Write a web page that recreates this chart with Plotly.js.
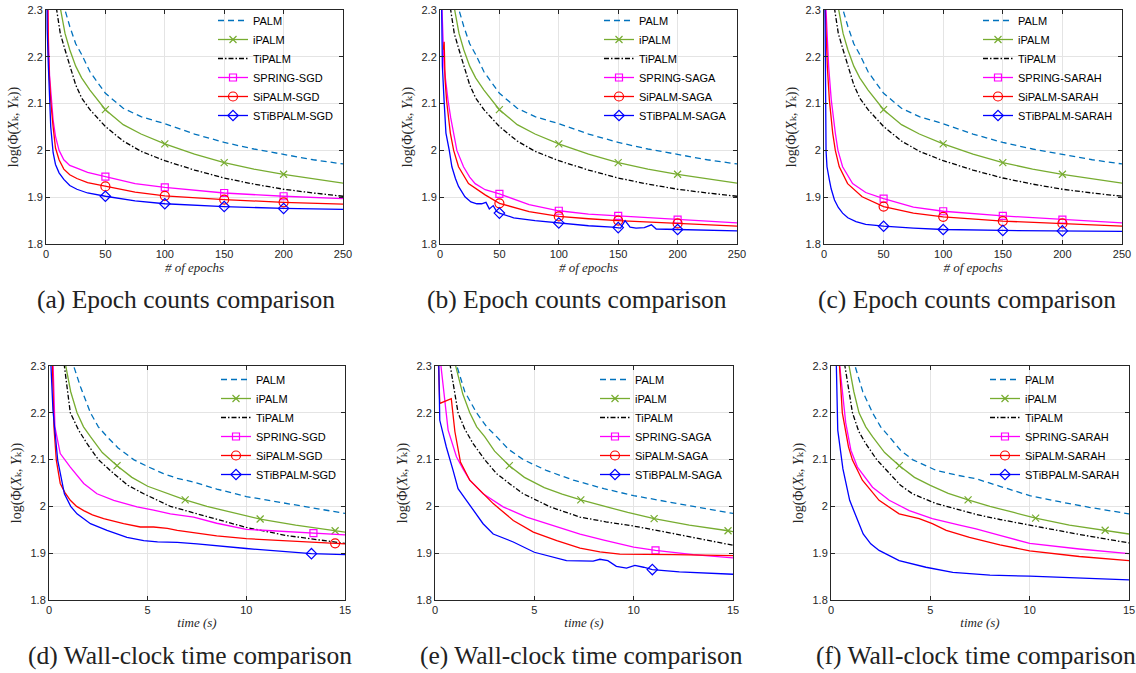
<!DOCTYPE html>
<html><head><meta charset="utf-8">
<script src="https://cdn.plot.ly/plotly-3.0.1.min.js"></script>
<style>html,body{margin:0;padding:0;background:#fff}#chart{width:1136px;height:673px}</style>
</head><body><div id="chart"></div>
<script>
// ---------------- DATA ----------------
const captions = ['(a) Epoch counts comparison','(b) Epoch counts comparison','(c) Epoch counts comparison',
  '(d) Wall-clock time comparison','(e) Wall-clock time comparison','(f) Wall-clock time comparison'];
const suffixes = ['SGD','SAGA','SARAH','SGD','SAGA','SARAH'];
const epochTicks = [0,50,100,150,200,250];
const timeTicks = [0,5,10,15];
const yTicks = [1.8,1.9,2.0,2.1,2.2,2.3];
const epochMarkerX = [50,100,150,200];

// deterministic methods vs epochs (same in a, b, c)
const EP_PALM_x   = [0,5,9,12,16,20,25,30,37,50,65,80,100,125,150,175,200,225,250];
const EP_PALM_y   = [3.0,2.6,2.45,2.37,2.3,2.265,2.228,2.205,2.168,2.122,2.09,2.072,2.057,2.035,2.017,2.003,1.991,1.98,1.971];
const EP_iPALM_x  = [0,5,9,12,16,20,25,30,37,50,65,80,100,125,150,175,200,225,250];
const EP_iPALM_y  = [3.0,2.5,2.37,2.305,2.25,2.215,2.18,2.155,2.129,2.087,2.055,2.035,2.014,1.992,1.974,1.96,1.949,1.939,1.930];
const EP_TiPALM_x = [0,5,9,12,16,20,25,30,37,50,65,80,100,125,150,175,200,225,250];
const EP_TiPALM_y = [3.0,2.45,2.3,2.25,2.215,2.18,2.14,2.112,2.087,2.051,2.02,1.998,1.978,1.958,1.941,1.928,1.917,1.909,1.902];

// (a) SGD vs epochs
const A_SPRING_x   = [0,1,2,3,4,6,8,11,15,20,26,35,50,75,100,150,200,250];
const A_SPRING_y   = [2.6,2.38,2.24,2.16,2.125,2.065,2.03,2.0,1.98,1.968,1.962,1.953,1.944,1.929,1.921,1.909,1.902,1.897];
const A_SiPALM_x   = [0,1,2,3,4,6,8,11,15,20,26,35,50,75,100,150,200,250];
const A_SiPALM_y   = [2.6,2.35,2.21,2.15,2.105,2.05,2.005,1.98,1.96,1.948,1.94,1.931,1.923,1.911,1.903,1.895,1.889,1.885];
const A_STiBPALM_x = [0,1,2,3,4,6,8,11,15,20,26,35,50,75,100,150,200,250];
const A_STiBPALM_y = [2.6,2.26,2.18,2.1,2.05,1.995,1.97,1.952,1.938,1.925,1.917,1.909,1.902,1.892,1.886,1.880,1.876,1.874];

// (b) SAGA vs epochs
const B_SPRING_x   = [0,1,1.7,3.4,5,6.7,9,11.5,14.2,19.8,25,29.6,38,50,75,100,125,150,200,250];
const B_SPRING_y   = [2.6,2.4,2.3,2.179,2.14,2.108,2.07,2.037,2.0,1.965,1.943,1.929,1.916,1.907,1.884,1.871,1.864,1.860,1.852,1.845];
const B_SiPALM_x   = [2.8,3.5,4.3,5.6,8.7,11.5,15.6,24,38,50,75,100,125,150,200,250];
const B_SiPALM_y   = [2.215,2.232,2.15,2.105,2.037,2.0,1.965,1.929,1.905,1.887,1.869,1.859,1.854,1.850,1.844,1.838];
const B_STiBPALM_x = [0,1,2,3.4,5,7.8,10,13,15.6,21,26,31,35,38.7,41.5,44.8,47.6,50,62,80,100,125,145,150,152,155.8,160,165,172,178,182,200,225,250];
const B_STiBPALM_y = [2.6,2.3,2.18,2.108,2.037,2.0,1.965,1.94,1.923,1.901,1.89,1.886,1.886,1.889,1.875,1.882,1.870,1.866,1.856,1.85,1.845,1.839,1.836,1.835,1.834,1.850,1.836,1.834,1.835,1.841,1.832,1.831,1.829,1.828];

// (c) SARAH vs epochs
const C_SPRING_x   = [0,1.7,3.9,6.1,9.5,11.7,15.6,24,35,50,75,100,150,200,250];
const C_SPRING_y   = [2.6,2.3,2.179,2.108,2.037,2.0,1.965,1.929,1.91,1.897,1.879,1.870,1.860,1.852,1.845];
const C_SiPALM_x   = [0,1.1,2.8,4.5,7.3,9.5,12.8,19.8,32,50,75,100,150,200,250];
const C_SiPALM_y   = [2.6,2.3,2.179,2.108,2.037,2.0,1.965,1.929,1.901,1.880,1.866,1.858,1.849,1.844,1.838];
const C_STiBPALM_x = [0,0.5,1.0,1.7,2.5,3.5,4.5,6,8.8,12,15.6,20,26.8,35,50,75,100,150,200,250];
const C_STiBPALM_y = [2.6,2.35,2.15,2.0,1.965,1.948,1.937,1.918,1.894,1.878,1.866,1.856,1.848,1.842,1.838,1.834,1.831,1.829,1.828,1.827];

// (d) SGD vs time (s)
const D_PALM_x     = [0,0.8,1.25,1.6,2.1,2.5,2.94,3.5,4.29,5,5.8,6.5,7.33,8.5,10,11.5,13,15];
const D_PALM_y     = [3.0,2.5,2.3,2.255,2.2,2.17,2.149,2.125,2.1,2.085,2.07,2.06,2.052,2.037,2.021,2.01,2.0,1.985];
const D_iPALM_x    = [0,0.5,0.85,1.1,1.42,1.75,2.1,2.7,3.45,4.2,5,6,6.9,8,9,10.7,12.5,14.5,15];
const D_iPALM_y    = [3.0,2.45,2.3,2.245,2.2,2.17,2.149,2.115,2.087,2.062,2.043,2.027,2.014,2.0,1.99,1.973,1.96,1.948,1.945];
const D_TiPALM_x   = [0,0.5,0.78,1.08,1.5,1.93,2.5,3.28,4,4.8,6.15,7.33,8.5,10,12,14,15];
const D_TiPALM_y   = [3.0,2.42,2.3,2.2,2.163,2.134,2.1,2.07,2.045,2.027,2.0,1.986,1.972,1.955,1.938,1.927,1.921];
const D_SPRING_x   = [0,0.2,0.3,0.57,1.08,1.76,2.43,3.28,4.46,5.3,6.15,7.33,8.5,10,12,13.4,15];
const D_SPRING_y   = [2.6,2.3,2.17,2.113,2.084,2.049,2.027,2.013,1.999,1.992,1.984,1.977,1.964,1.951,1.946,1.943,1.939];
const D_SiPALM_x   = [0,0.17,0.25,0.37,0.57,0.8,1.08,1.4,1.76,2.2,2.77,3.78,4.63,5.3,6.0,6.5,7.33,8.5,10,12,14.5,15];
const D_SiPALM_y   = [2.6,2.3,2.17,2.099,2.049,2.03,2.013,2.0,1.991,1.982,1.974,1.963,1.956,1.956,1.953,1.949,1.944,1.937,1.931,1.926,1.921,1.920];
const D_STiBPALM_x = [0,0.1,0.2,0.44,0.78,1.1,1.42,2.1,2.94,3.95,4.8,5.5,6.5,7.5,10,12,13.3,15];
const D_STiBPALM_y = [2.6,2.3,2.206,2.099,2.027,2.0,1.984,1.963,1.949,1.934,1.927,1.924,1.923,1.920,1.910,1.903,1.899,1.897];

// (e) SAGA vs time (s)
const E_PALM_x     = [0,0.6,1.1,1.5,2.09,2.6,3.1,3.7,4.44,5.6,6.97,8.5,10,11.5,13,15];
const E_PALM_y     = [3.0,2.5,2.3,2.245,2.2,2.17,2.149,2.122,2.1,2.077,2.056,2.038,2.023,2.011,2.0,1.985];
const E_iPALM_x    = [0,0.6,1.04,1.4,1.75,2.1,2.5,3.0,3.74,4.5,5.5,6.4,7.34,8.5,9.7,11.03,12.8,14.75,15];
const E_iPALM_y    = [3.0,2.45,2.3,2.24,2.2,2.17,2.149,2.118,2.087,2.062,2.04,2.026,2.014,2.0,1.987,1.974,1.96,1.948,1.946];
const E_TiPALM_x   = [0,0.5,0.77,1.16,1.5,1.92,2.5,3.1,3.8,4.44,5.8,7.3,8.6,10,11.5,13,15];
const E_TiPALM_y   = [3.0,2.42,2.3,2.2,2.165,2.134,2.1,2.07,2.047,2.027,1.999,1.977,1.967,1.958,1.946,1.933,1.917];
const E_SPRING_x   = [0,0.15,0.3,0.66,1.08,1.41,1.75,2.42,3.43,4.61,6.13,7.3,8.5,10,11.1,13,15];
const E_SPRING_y   = [2.6,2.45,2.3,2.163,2.106,2.08,2.056,2.027,1.999,1.977,1.956,1.941,1.928,1.913,1.906,1.897,1.890];
const E_SiPALM_x   = [0,0.1,0.24,0.82,1.0,1.28,1.75,2.26,2.93,3.94,4.95,6.13,7.3,8.3,9.3,12,15];
const E_SiPALM_y   = [2.6,2.4,2.22,2.23,2.16,2.095,2.056,2.034,2.006,1.97,1.945,1.927,1.911,1.903,1.898,1.897,1.895];
const E_STiBPALM_x = [0,0.15,0.24,0.57,0.91,1.16,1.58,2.0,2.42,2.93,3.94,5.0,6.13,6.62,7.96,8.3,8.7,9.13,9.64,10.06,10.5,10.94,12.3,15];
const E_STiBPALM_y = [2.6,2.4,2.184,2.127,2.077,2.038,2.013,1.988,1.963,1.941,1.924,1.902,1.889,1.884,1.883,1.887,1.884,1.872,1.868,1.874,1.870,1.865,1.860,1.855];

// (f) SARAH vs time (s)
const F_PALM_x     = [0,0.7,1.21,1.6,2.09,2.5,2.93,3.5,4.1,5.29,6.3,7.3,8.5,10,11.5,13,15];
const F_PALM_y     = [3.0,2.45,2.3,2.245,2.2,2.17,2.149,2.12,2.1,2.077,2.067,2.059,2.043,2.023,2.01,1.998,1.984];
const F_iPALM_x    = [0,0.5,0.91,1.15,1.41,1.75,2.09,2.7,3.44,4.2,5,5.9,6.9,8,9.2,10.3,12,13.8,15];
const F_iPALM_y    = [3.0,2.45,2.3,2.245,2.2,2.17,2.149,2.115,2.087,2.062,2.045,2.028,2.014,2.0,1.987,1.975,1.96,1.949,1.941];
const F_TiPALM_x   = [0,0.45,0.7,1.08,1.4,1.75,2.3,2.93,3.5,4.1,5.29,7.3,8.5,10,12.5,15];
const F_TiPALM_y   = [3.0,2.42,2.3,2.2,2.16,2.134,2.1,2.07,2.045,2.027,2.006,1.983,1.972,1.96,1.94,1.922];
const F_SPRING_x   = [0,0.2,0.44,0.74,1.0,1.33,2.09,2.93,3.94,5.1,6.47,7.3,8.5,10,12.5,15];
const F_SPRING_y   = [2.6,2.45,2.3,2.179,2.12,2.084,2.041,2.013,1.991,1.974,1.96,1.952,1.938,1.921,1.909,1.899];
const F_SiPALM_x   = [0,0.2,0.4,0.57,0.88,1.08,1.58,2.42,3.43,4.44,5.1,5.8,6.97,8.5,10,12.5,15];
const F_SiPALM_y   = [2.6,2.45,2.3,2.2,2.127,2.099,2.056,2.013,1.984,1.974,1.963,1.949,1.934,1.918,1.905,1.893,1.884];
const F_STiBPALM_x = [0,0.15,0.27,0.34,0.6,0.94,1.25,1.62,2.0,2.42,3.43,4.78,6.13,7.3,8,10,12.5,15];
const F_STiBPALM_y = [2.6,2.4,2.3,2.163,2.08,2.013,1.98,1.941,1.92,1.906,1.884,1.87,1.859,1.856,1.853,1.851,1.847,1.843];

// marker positions (x values of marked samples)
const D_iPALM_mk = [3.45,6.9,10.7,14.5];
const D_SPRING_mk = [13.4];
const D_SiPALM_mk = [14.5];
const D_STiBPALM_mk = [13.3];
const E_iPALM_mk = [3.74,7.34,11.03,14.75];
const E_SPRING_mk = [11.1];
const E_STiBPALM_mk = [10.94];
const F_iPALM_mk = [3.44,6.9,10.3,13.8];

// ---------------- STYLE / LAYOUT ----------------
const W = 1136, H = 673;
const ORDER = ['PALM','iPALM','TiPALM','SPRING','SiPALM','STiBPALM'];
const STYLE = {
  PALM:    {color:'#0072BD', dash:'6px,4px'},
  iPALM:   {color:'#77AC30', dash:'solid', symbol:'x-thin-open', size:7},
  TiPALM:  {color:'#000000', dash:'5px,2px,1.5px,2px'},
  SPRING:  {color:'#FF00FF', dash:'solid', symbol:'square-open', size:7},
  SiPALM:  {color:'#FF0000', dash:'solid', symbol:'circle-open', size:9},
  STiBPALM:{color:'#0000FF', dash:'solid', symbol:'diamond-open', size:8}
};
const panels = [
  {data:{PALM:[EP_PALM_x,EP_PALM_y],iPALM:[EP_iPALM_x,EP_iPALM_y],TiPALM:[EP_TiPALM_x,EP_TiPALM_y],SPRING:[A_SPRING_x,A_SPRING_y],SiPALM:[A_SiPALM_x,A_SiPALM_y],STiBPALM:[A_STiBPALM_x,A_STiBPALM_y]},
   marks:{iPALM:epochMarkerX,SPRING:epochMarkerX,SiPALM:epochMarkerX,STiBPALM:epochMarkerX}, epochs:true},
  {data:{PALM:[EP_PALM_x,EP_PALM_y],iPALM:[EP_iPALM_x,EP_iPALM_y],TiPALM:[EP_TiPALM_x,EP_TiPALM_y],SPRING:[B_SPRING_x,B_SPRING_y],SiPALM:[B_SiPALM_x,B_SiPALM_y],STiBPALM:[B_STiBPALM_x,B_STiBPALM_y]},
   marks:{iPALM:epochMarkerX,SPRING:epochMarkerX,SiPALM:epochMarkerX,STiBPALM:epochMarkerX}, epochs:true},
  {data:{PALM:[EP_PALM_x,EP_PALM_y],iPALM:[EP_iPALM_x,EP_iPALM_y],TiPALM:[EP_TiPALM_x,EP_TiPALM_y],SPRING:[C_SPRING_x,C_SPRING_y],SiPALM:[C_SiPALM_x,C_SiPALM_y],STiBPALM:[C_STiBPALM_x,C_STiBPALM_y]},
   marks:{iPALM:epochMarkerX,SPRING:epochMarkerX,SiPALM:epochMarkerX,STiBPALM:epochMarkerX}, epochs:true},
  {data:{PALM:[D_PALM_x,D_PALM_y],iPALM:[D_iPALM_x,D_iPALM_y],TiPALM:[D_TiPALM_x,D_TiPALM_y],SPRING:[D_SPRING_x,D_SPRING_y],SiPALM:[D_SiPALM_x,D_SiPALM_y],STiBPALM:[D_STiBPALM_x,D_STiBPALM_y]},
   marks:{iPALM:D_iPALM_mk,SPRING:D_SPRING_mk,SiPALM:D_SiPALM_mk,STiBPALM:D_STiBPALM_mk}, epochs:false},
  {data:{PALM:[E_PALM_x,E_PALM_y],iPALM:[E_iPALM_x,E_iPALM_y],TiPALM:[E_TiPALM_x,E_TiPALM_y],SPRING:[E_SPRING_x,E_SPRING_y],SiPALM:[E_SiPALM_x,E_SiPALM_y],STiBPALM:[E_STiBPALM_x,E_STiBPALM_y]},
   marks:{iPALM:E_iPALM_mk,SPRING:E_SPRING_mk,STiBPALM:E_STiBPALM_mk}, epochs:false},
  {data:{PALM:[F_PALM_x,F_PALM_y],iPALM:[F_iPALM_x,F_iPALM_y],TiPALM:[F_TiPALM_x,F_TiPALM_y],SPRING:[F_SPRING_x,F_SPRING_y],SiPALM:[F_SiPALM_x,F_SiPALM_y],STiBPALM:[F_STiBPALM_x,F_STiBPALM_y]},
   marks:{iPALM:F_iPALM_mk}, epochs:false}
];
// pixel boxes of the plot areas [x0,x1,yTop,yBottom]
const BOX = [[46,343,10,244],[440,737,10,244],[824,1122,10,244],[49,345,366,600],[435,733,366,600],[831,1129,366,600]];
const LEG = [[213,6],[599,6],[978,6],[216,365],[595,365],[985,365]];
const CAP = [[186,299],[577,299],[967,299],[190,655],[581,655],[976,655]];

const traces = [];
const layout = {
  width:W, height:H, margin:{l:0,r:0,t:0,b:0}, paper_bgcolor:'#fff', plot_bgcolor:'#fff',
  showlegend:true, annotations:[], font:{family:'Liberation Sans, Arial, sans-serif', color:'#262626'}
};

panels.forEach((p, i) => {
  const n = i + 1;
  const xa = n === 1 ? 'x' : 'x' + n, ya = n === 1 ? 'y' : 'y' + n;
  const xk = n === 1 ? 'xaxis' : 'xaxis' + n, yk = n === 1 ? 'yaxis' : 'yaxis' + n;
  const lk = n === 1 ? 'legend' : 'legend' + n;
  const b = BOX[i];
  const common = {showline:true, linecolor:'#262626', linewidth:1, mirror:'allticks', ticks:'inside', ticklen:4,
    tickcolor:'#262626', showgrid:true, gridcolor:'#e4e4e4', gridwidth:1, zeroline:false, fixedrange:true,
    tickfont:{family:'Liberation Sans, Arial, sans-serif', size:11, color:'#262626'}};
  layout[xk] = Object.assign({}, common, {
    domain:[b[0]/W, b[1]/W], anchor:ya, range: p.epochs ? [0,250] : [0,15],
    tickmode:'array', tickvals: p.epochs ? epochTicks : timeTicks,
    title:{text: p.epochs ? '<i># of epochs</i>' : '<i>time (s)</i>', font:{family:'Liberation Serif, serif', size:13, color:'#262626'}, standoff:2}
  });
  layout[yk] = Object.assign({}, common, {
    domain:[1 - b[3]/H, 1 - b[2]/H], anchor:xa, range:[1.8,2.3],
    tickmode:'array', tickvals:yTicks,
    title:{text:'log(Φ(<i>X</i>ₖ, <i>Y</i>ₖ))', font:{family:'Liberation Serif, DejaVu Serif, serif', size:14, color:'#262626'}, standoff:5}
  });
  layout[lk] = {x:LEG[i][0]/W, y:1 - LEG[i][1]/H, xanchor:'left', yanchor:'top', bgcolor:'rgba(0,0,0,0)',
    borderwidth:0, itemwidth:30, font:{family:'Liberation Sans, Arial, sans-serif', size:11, color:'#000'}};
  layout.annotations.push({text:captions[i], x:CAP[i][0]/W, y:1 - CAP[i][1]/H, xref:'paper', yref:'paper',
    xanchor:'center', yanchor:'middle', showarrow:false, font:{family:'Liberation Serif, serif', size:25.5, color:'#222'}});

  ORDER.forEach(name => {
    const s = STYLE[name];
    const [xs, ys] = p.data[name];
    traces.push({x:xs, y:ys, xaxis:xa, yaxis:ya, mode:'lines', showlegend:false, hoverinfo:'skip',
      line:{color:s.color, width:1.3, dash:s.dash}});
    const mk = p.marks[name];
    if (mk) {
      const mxs = [], mys = [];
      xs.forEach((xv, j) => { if (mk.some(m => Math.abs(m - xv) < 1e-9)) { mxs.push(xv); mys.push(ys[j]); } });
      traces.push({x:mxs, y:mys, xaxis:xa, yaxis:ya, mode:'markers', showlegend:false, hoverinfo:'skip',
        marker:{symbol:s.symbol, size:s.size, color:s.color, line:{color:s.color, width:1.2}}});
    }
    const label = (name === 'PALM' || name === 'iPALM' || name === 'TiPALM') ? name : name + '-' + suffixes[i];
    const leg = {x:[null], y:[null], xaxis:xa, yaxis:ya, name:label, legend:lk, showlegend:true,
      mode: s.symbol ? 'lines+markers' : 'lines', line:{color:s.color, width:1.3, dash:s.dash}};
    if (s.symbol) leg.marker = {symbol:s.symbol, size:s.size, color:s.color, line:{color:s.color, width:1.2}};
    traces.push(leg);
  });
});

Plotly.newPlot('chart', traces, layout, {displayModeBar:false, staticPlot:true});
</script>
</body></html>
